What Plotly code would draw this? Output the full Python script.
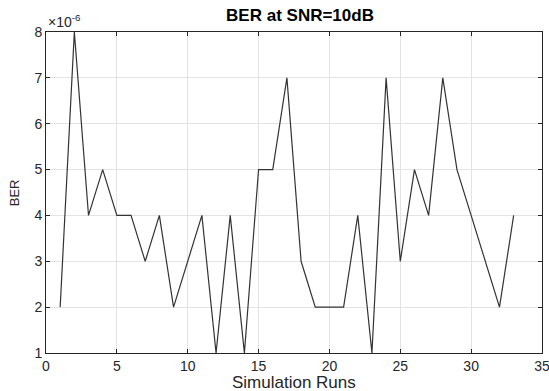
import plotly.graph_objects as go

runs = list(range(1, 34))
ber_scaled = [2, 8, 4, 5, 4, 4, 3, 4, 2, 3, 4, 1, 4, 1, 5, 5, 7, 3, 2, 2, 2, 4, 1, 7, 3, 5, 4, 7, 5, 4, 3, 2, 4]
ber = [v * 1e-6 for v in ber_scaled]
x_ticks = [0, 5, 10, 15, 20, 25, 30, 35]
y_ticks = [1e-6, 2e-6, 3e-6, 4e-6, 5e-6, 6e-6, 7e-6, 8e-6]
y_ticklabels = ["1", "2", "3", "4", "5", "6", "7", "8"]

FONT = "Liberation Sans, Arial, sans-serif"
fig = go.Figure()
fig.add_trace(go.Scatter(x=runs, y=ber, mode="lines",
                         line=dict(color="#333333", width=1.2)))

axis_font = dict(family=FONT, size=14, color="#262626")
fig.update_layout(
    width=549, height=391,
    margin=dict(l=46, r=7, t=32, b=38, autoexpand=False),
    paper_bgcolor="white", plot_bgcolor="white",
    showlegend=False,
    title=dict(text="<b>BER at SNR=10dB</b>", x=0.5465, xanchor="center", y=0.962, yanchor="middle",
               font=dict(family=FONT, size=17, color="black")),
    font=axis_font,
)
fig.update_xaxes(range=[0, 35], tickvals=x_ticks, showgrid=True, gridcolor="#e3e3e3",
                 showline=True, linecolor="#262626", linewidth=1, mirror="ticks",
                 ticks="inside", ticklen=4, tickcolor="#262626", zeroline=False,
                 tickfont=axis_font, automargin=False, ticklabeloverflow="allow")
fig.update_yaxes(range=[1e-6, 8e-6], tickvals=y_ticks, ticktext=y_ticklabels, showgrid=True,
                 gridcolor="#e3e3e3", showline=True, linecolor="#262626", linewidth=1,
                 mirror="ticks", ticks="inside", ticklen=4, tickcolor="#262626", zeroline=False,
                 tickfont=axis_font, automargin=False)
fig.add_annotation(text="Simulation Runs", xref="paper", yref="paper", x=0.5, y=-0.093,
                   xanchor="center", yanchor="middle", showarrow=False,
                   font=dict(family=FONT, size=17, color="#262626"))
fig.add_annotation(text="BER", xref="paper", yref="paper", x=-0.063, y=0.5,
                   xanchor="center", yanchor="middle", showarrow=False, textangle=-90,
                   font=dict(family=FONT, size=13, color="#262626"))
fig.add_annotation(text="×10<sup>-6</sup>", xref="paper", yref="paper", x=0.0, y=1.0,
                   xanchor="left", yanchor="bottom", showarrow=False,
                   font=dict(family=FONT, size=14, color="#262626"))

fig.write_html("out.html", config={"displayModeBar": False},
               post_script="document.body.style.margin='0';document.body.style.overflow='hidden';")
